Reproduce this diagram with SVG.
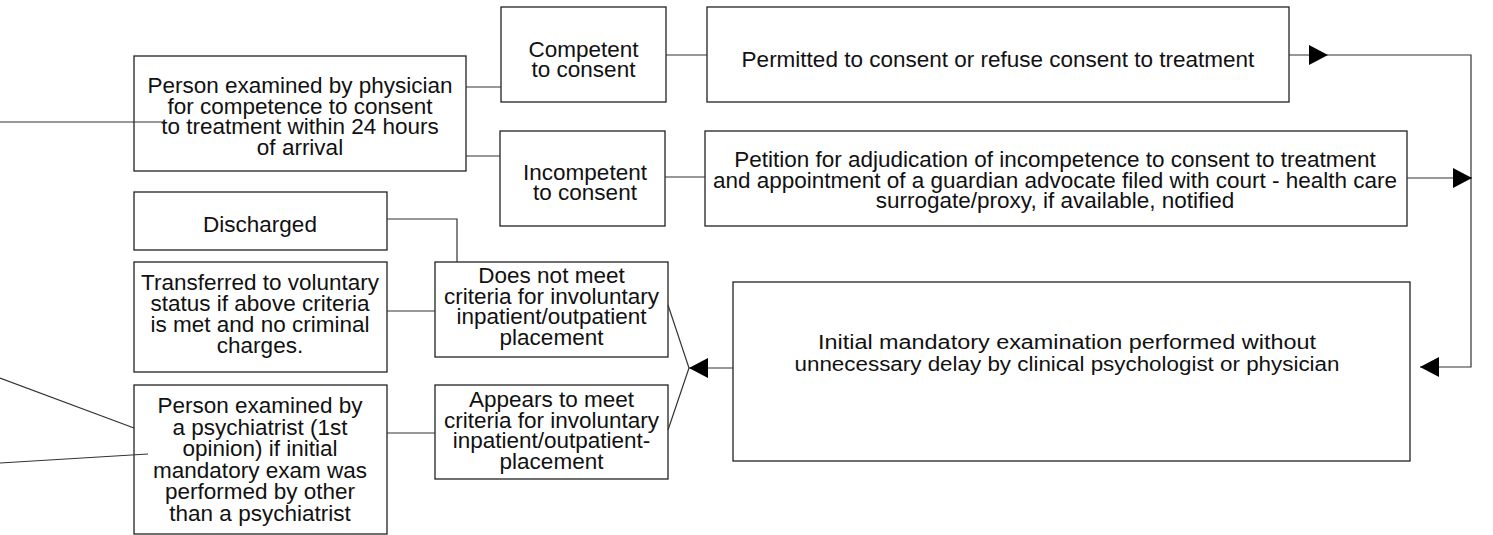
<svg xmlns="http://www.w3.org/2000/svg" width="1493" height="535" viewBox="0 0 1493 535">
<style>
.box{fill:#fff;stroke:#222;stroke-width:1.3}
.t{font-family:"Liberation Sans",Arial,sans-serif;font-size:22.5px;fill:#111;text-anchor:middle}
.tc{font-family:"Liberation Sans",Arial,sans-serif;font-size:20px;fill:#111;text-anchor:middle}
.ln{fill:none;stroke:#333;stroke-width:1.2}
</style>
<defs>
<marker id="ah" viewBox="0 0 19 20" refX="19" refY="10" markerWidth="19" markerHeight="20" markerUnits="userSpaceOnUse" orient="auto">
<path d="M0,0 L19,10 L0,20 z" fill="#000"/>
</marker>
</defs>
<g id="n-physician">
<rect class="box" x="134" y="56" width="332" height="115"/>
<text class="t" x="300" y="93">Person examined by physician</text>
<text class="t" x="300" y="113.7">for competence to consent</text>
<text class="t" x="300" y="134.4">to treatment within 24 hours</text>
<text class="t" x="300" y="155.1">of arrival</text>
</g>
<g id="n-competent">
<rect class="box" x="501" y="7" width="165" height="95"/>
<text class="t" x="583.5" y="57">Competent</text>
<text class="t" x="583.5" y="77">to consent</text>
</g>
<g id="n-incompetent">
<rect class="box" x="500" y="131" width="165" height="95"/>
<text class="t" x="585" y="180">Incompetent</text>
<text class="t" x="585" y="200">to consent</text>
</g>
<g id="n-permitted">
<rect class="box" x="707" y="7" width="582" height="95"/>
<text class="t" x="998" y="67">Permitted to consent or refuse consent to treatment</text>
</g>
<g id="n-petition">
<rect class="box" x="705" y="131" width="702" height="95"/>
<text class="t" x="1055" y="167">Petition for adjudication of incompetence to consent to treatment</text>
<text class="t" x="1055" y="188">and appointment of a guardian advocate filed with court - health care</text>
<text class="t" x="1055" y="208">surrogate/proxy, if available, notified</text>
</g>
<g id="n-initial">
<rect class="box" x="733" y="282" width="677" height="179"/>
<text class="tc" x="1067" y="349" textLength="498" lengthAdjust="spacingAndGlyphs">Initial mandatory examination performed without</text>
<text class="tc" x="1067" y="371" textLength="545" lengthAdjust="spacingAndGlyphs">unnecessary delay by clinical psychologist or physician</text>
</g>
<g id="n-discharged">
<rect class="box" x="134" y="192" width="253" height="58"/>
<text class="t" x="260" y="232">Discharged</text>
</g>
<g id="n-transferred">
<rect class="box" x="134" y="262" width="253" height="110"/>
<text class="t" x="260" y="290">Transferred to voluntary</text>
<text class="t" x="260" y="311">status if above criteria</text>
<text class="t" x="260" y="332">is met and no criminal</text>
<text class="t" x="260" y="353">charges.</text>
</g>
<g id="n-psychiatrist">
<rect class="box" x="134" y="385" width="253" height="149"/>
<text class="t" x="260" y="413">Person examined by</text>
<text class="t" x="260" y="434.5">a psychiatrist (1st</text>
<text class="t" x="260" y="456">opinion) if initial</text>
<text class="t" x="260" y="477.5">mandatory exam was</text>
<text class="t" x="260" y="499">performed by other</text>
<text class="t" x="260" y="520.5">than a psychiatrist</text>
</g>
<g id="n-notmeet">
<rect class="box" x="435" y="262" width="233" height="95"/>
<text class="t" x="551.5" y="283">Does not meet</text>
<text class="t" x="551.5" y="303.7">criteria for involuntary</text>
<text class="t" x="551.5" y="324.4">inpatient/outpatient</text>
<text class="t" x="551.5" y="345.1">placement</text>
</g>
<g id="n-appears">
<rect class="box" x="435" y="385" width="233" height="94"/>
<text class="t" x="551.5" y="407">Appears to meet</text>
<text class="t" x="551.5" y="427.7">criteria for involuntary</text>
<text class="t" x="551.5" y="448.4">inpatient/outpatient-</text>
<text class="t" x="551.5" y="469.1">placement</text>
</g>
<g id="connectors">
<path class="ln" d="M0,122 L164,122"/>
<path class="ln" d="M466,87 L501,87"/>
<path class="ln" d="M466,156 L500,156"/>
<path class="ln" d="M666,55 L707,55"/>
<path class="ln" d="M665,177 L705,177"/>
<path class="ln" d="M1289,55 L1328,55" marker-end="url(#ah)"/>
<path class="ln" d="M1328,55 L1471,55 L1471,367 L1420,367" marker-end="url(#ah)"/>
<path class="ln" d="M1407,178 L1472,178" marker-end="url(#ah)"/>
<path class="ln" d="M733,368 L689,368" marker-end="url(#ah)"/>
<path class="ln" d="M668,305 L689,368 L668,430"/>
<path class="ln" d="M387,219 L457,219 L457,262"/>
<path class="ln" d="M387,311 L435,311"/>
<path class="ln" d="M387,433 L435,433"/>
<path class="ln" d="M0,378 L134,428"/>
<path class="ln" d="M0,463 L148,454"/>
</g>
</svg>
